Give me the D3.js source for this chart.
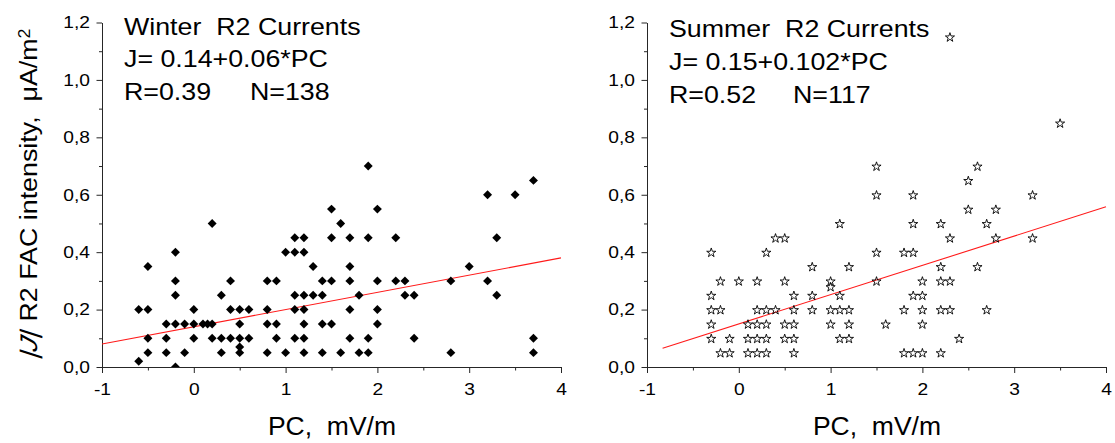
<!DOCTYPE html>
<html>
<head>
<meta charset="utf-8">
<script src="https://cdn.jsdelivr.net/npm/d3@7"></script>
<style>
  html, body { margin: 0; padding: 0; background: #fff; }
  svg { display: block; font-family: "Liberation Sans", Arial, sans-serif; }
  text { white-space: pre; fill: #000; }
</style>
</head>
<body>
<svg id="chart" width="1115" height="443"></svg>
<script>
// ---- Winter R2 currents: PC index (mV/m) vs |J| (µA/m²) ----
const winterPC = [
  -0.6, -0.6,
  -0.5, -0.5, -0.5, -0.5,
  -0.3, -0.3, -0.3,
  -0.2, -0.2, -0.2, -0.2, -0.2,
  -0.1, -0.1,
  0.0, 0.0, 0.0,
  0.1, 0.15,
  0.2, 0.2, 0.2,
  0.3, 0.3, 0.3,
  0.4, 0.4, 0.4,
  0.5, 0.5, 0.5, 0.5, 0.5,
  0.6, 0.6,
  0.8, 0.8, 0.8, 0.8,
  0.9, 0.9, 0.9,
  1.0, 1.0,
  1.1, 1.1, 1.1, 1.1, 1.1,
  1.2, 1.2, 1.2, 1.2, 1.2, 1.2, 1.2,
  1.3, 1.3,
  1.4, 1.4, 1.4, 1.4,
  1.5, 1.5, 1.5, 1.5,
  1.6, 1.6,
  1.7, 1.7, 1.7, 1.7, 1.7,
  1.8, 1.8,
  1.9, 1.9, 1.9, 1.9,
  2.0, 2.0, 2.0, 2.0,
  2.2, 2.2,
  2.3, 2.3,
  2.4, 2.4,
  2.8, 2.8,
  3.0,
  3.2, 3.2,
  3.3, 3.3,
  3.5,
  3.7, 3.7, 3.7
];
const winterJ = [
  0.20, 0.02,
  0.35, 0.20, 0.10, 0.05,
  0.15, 0.10, 0.05,
  0.40, 0.30, 0.25, 0.15, 0.00,
  0.15, 0.05,
  0.20, 0.15, 0.10,
  0.15, 0.15,
  0.50, 0.15, 0.10,
  0.25, 0.10, 0.05,
  0.30, 0.20, 0.10,
  0.20, 0.15, 0.10, 0.07, 0.05,
  0.20, 0.10,
  0.30, 0.20, 0.15, 0.05,
  0.30, 0.15, 0.10,
  0.40, 0.05,
  0.45, 0.40, 0.25, 0.20, 0.10,
  0.45, 0.40, 0.25, 0.20, 0.15, 0.10, 0.05,
  0.35, 0.25,
  0.30, 0.25, 0.15, 0.05,
  0.55, 0.45, 0.30, 0.15,
  0.50, 0.05,
  0.45, 0.35, 0.30, 0.20, 0.10,
  0.25, 0.05,
  0.70, 0.45, 0.10, 0.05,
  0.55, 0.30, 0.20, 0.15,
  0.45, 0.30,
  0.30, 0.25,
  0.25, 0.10,
  0.30, 0.05,
  0.35,
  0.60, 0.30,
  0.45, 0.25,
  0.60,
  0.65, 0.10, 0.05
];

// ---- Summer R2 currents ----
const summerPC = [
  -0.3, -0.3, -0.3, -0.3, -0.3,
  -0.2, -0.2, -0.2,
  -0.1, -0.1,
  0.0,
  0.1, 0.1, 0.1,
  0.2, 0.2, 0.2, 0.2, 0.2,
  0.3, 0.3, 0.3, 0.3, 0.3,
  0.4, 0.4,
  0.5, 0.5, 0.5, 0.5,
  0.6, 0.6, 0.6, 0.6, 0.6,
  0.8, 0.8, 0.8,
  1.0, 1.0, 1.0, 1.0,
  1.1, 1.1, 1.1, 1.1,
  1.2, 1.2, 1.2, 1.2,
  1.5, 1.5, 1.5, 1.5,
  1.6,
  1.8, 1.8, 1.8,
  1.9, 1.9, 1.9, 1.9, 1.9,
  2.0, 2.0, 2.0, 2.0, 2.0,
  2.2, 2.2, 2.2, 2.2, 2.2,
  2.3, 2.3, 2.3, 2.3,
  2.4,
  2.5, 2.5,
  2.6, 2.6,
  2.7, 2.7,
  2.8, 2.8,
  3.2, 3.2,
  3.5
];
const summerJ = [
  0.40, 0.25, 0.20, 0.15, 0.10,
  0.30, 0.20, 0.05,
  0.10, 0.05,
  0.30,
  0.15, 0.10, 0.05,
  0.30, 0.20, 0.15, 0.10, 0.05,
  0.40, 0.20, 0.15, 0.10, 0.05,
  0.45, 0.20,
  0.45, 0.30, 0.15, 0.10,
  0.25, 0.20, 0.15, 0.10, 0.05,
  0.35, 0.25, 0.20,
  0.30, 0.28, 0.20, 0.15,
  0.50, 0.25, 0.20, 0.10,
  0.35, 0.20, 0.15, 0.10,
  0.70, 0.60, 0.40, 0.30,
  0.15,
  0.40, 0.20, 0.05,
  0.60, 0.50, 0.40, 0.25, 0.05,
  0.30, 0.25, 0.20, 0.15, 0.05,
  0.50, 0.35, 0.30, 0.20, 0.05,
  1.15, 0.45, 0.30, 0.20,
  0.10,
  0.65, 0.55,
  0.70, 0.35,
  0.50, 0.20,
  0.55, 0.45,
  0.60, 0.45,
  0.85
];

// Linear fits J = a + b*PC and the PC range each line covers
const winterFit = [0.14, 0.06];
const summerFit = [0.15, 0.102];
const winterFitRange = [-1, 4];
const summerFitRange = [-0.83, 4];

// Axis ticks
const xMajorTicks = [-1, 0, 1, 2, 3, 4];
const xMinorTicks = [-0.5, 0.5, 1.5, 2.5, 3.5];
const yMajorTicks = [0, 0.2, 0.4, 0.6, 0.8, 1.0, 1.2];
const yMinorTicks = [0.1, 0.3, 0.5, 0.7, 0.9, 1.1];
const yTickLabels = ["0,0", "0,2", "0,4", "0,6", "0,8", "1,0", "1,2"];
const xTickLabels = ["-1", "0", "1", "2", "3", "4"];

// Panel annotations
const winterNotes = ["Winter  R2 Currents", "J= 0.14+0.06*PC", "R=0.39", "N=138"];
const summerNotes = ["Summer  R2 Currents", "J= 0.15+0.102*PC", "R=0.52", "N=117"];
const xTitle = "PC,  mV/m";

const svg = d3.select("#chart");
const AXIS = "#262626";

const y = d3.scaleLinear().domain([0, 1.2]).range([367, 22.5]);

const panels = [
  { id: "w", pc: winterPC, j: winterJ, fit: winterFit, range: winterFitRange,
    notes: winterNotes, left: 102, right: 561, noteX: 124, noteY: [35, 67, 100], nX: 250, marker: "diamond" },
  { id: "s", pc: summerPC, j: summerJ, fit: summerFit, range: summerFitRange,
    notes: summerNotes, left: 647, right: 1106, noteX: 669, noteY: [37, 70, 103], nX: 793, marker: "star" }
];

// Horizontally widened text, anchored at (x, y)
function wideText(parent, x, yPos, str, size, sx, anchor) {
  return parent.append("text")
    .attr("transform", `translate(${x},${yPos}) scale(${sx},1)`)
    .attr("text-anchor", anchor || "start")
    .style("font-size", size + "px")
    .text(str);
}

panels.forEach(p => {
  const x = d3.scaleLinear().domain([-1, 4]).range([p.left, p.right]);
  const g = svg.append("g");

  // minor ticks
  g.append("g").attr("transform", `translate(${p.left},0)`)
    .call(d3.axisLeft(y).tickValues(yMinorTicks).tickSize(3).tickSizeOuter(0).tickFormat(""))
    .call(a => a.select(".domain").remove());
  g.append("g").attr("transform", `translate(0,${y(0)})`)
    .call(d3.axisBottom(x).tickValues(xMinorTicks).tickSize(3.5).tickSizeOuter(0).tickFormat(""))
    .call(a => a.select(".domain").remove());

  // major ticks and axis lines
  g.append("g").attr("transform", `translate(${p.left},0)`)
    .call(d3.axisLeft(y).tickValues(yMajorTicks).tickSize(5.5).tickSizeOuter(0).tickFormat(""));
  g.append("g").attr("transform", `translate(0,${y(0)})`)
    .call(d3.axisBottom(x).tickValues(xMajorTicks).tickSize(6).tickSizeOuter(0).tickFormat(""));

  g.selectAll(".domain, .tick line").attr("stroke", AXIS).attr("stroke-width", 1);

  // tick labels
  yMajorTicks.forEach((v, i) => {
    wideText(g, p.left - 12, y(v) + 5.8, yTickLabels[i], 16, 1.2, "end");
  });
  xMajorTicks.forEach((v, i) => {
    wideText(g, x(v) + 0.5, 395, xTickLabels[i], 16, 1.2, "middle");
  });

  // x-axis title
  wideText(g, (p.left + p.right) / 2 + 0.5, 435, xTitle, 26, 1.02, "middle");

  // clip region for marks
  svg.append("clipPath").attr("id", "clip-" + p.id)
    .append("rect")
    .attr("x", p.left).attr("y", y(1.2) - 6)
    .attr("width", p.right - p.left + 6).attr("height", y(0) - y(1.2) + 6);

  const marks = g.append("g").attr("clip-path", `url(#clip-${p.id})`);

  // fit line
  const line = d3.line().x(d => x(d)).y(d => y(p.fit[0] + p.fit[1] * d));
  marks.append("path")
    .datum(p.range)
    .attr("d", line)
    .attr("fill", "none")
    .attr("stroke", "#ff1a1a")
    .attr("stroke-width", 1.1);

  const pts = p.pc.map((v, i) => [v, p.j[i]]);
  if (p.marker === "diamond") {
    const sym = d3.symbol(d3.symbolSquare, 40)();
    marks.selectAll("path.pt").data(pts).join("path")
      .attr("class", "pt")
      .attr("d", sym)
      .attr("transform", d => `translate(${x(d[0])},${y(d[1])}) rotate(45)`)
      .attr("fill", "#000");
  } else {
    const sym = d3.symbol(d3.symbolStar, 26)();
    marks.selectAll("path.pt").data(pts).join("path")
      .attr("class", "pt")
      .attr("d", sym)
      .attr("transform", d => `translate(${x(d[0])},${y(d[1]) + 0.6})`)
      .attr("fill", "none")
      .attr("stroke", "#000")
      .attr("stroke-width", 0.9);
  }

  // annotations
  wideText(g, p.noteX, p.noteY[0], p.notes[0], 23.5, 1.14);
  wideText(g, p.noteX, p.noteY[1], p.notes[1], 23.5, 1.14);
  wideText(g, p.noteX, p.noteY[2], p.notes[2], 23.5, 1.14);
  wideText(g, p.nX, p.noteY[2], p.notes[3], 23.5, 1.14);
});

// y-axis title (left panel): slanted |J| followed by the rest of the label
const ytGroup = svg.append("g");
const ytMag = ytGroup.append("text")
  .style("font-size", "24px")
  .style("font-style", "italic")
  .text("|J|");
const ytRest = ytGroup.append("text")
  .style("font-size", "24px");
ytRest.append("tspan").text(" R2 FAC intensity,  \u03BCA/m");
ytRest.append("tspan").attr("dy", "-0.42em").style("font-size", "16px").text("2");
const wMag = ytMag.node().getComputedTextLength();
const wRest = ytRest.node().getComputedTextLength();
const wAll = wMag + wRest;
const x0 = -wAll / 2;
ytMag.attr("transform", `translate(${x0 - 1.5},0) skewX(-16)`);
ytRest.attr("x", x0 + wMag + 1.5);
ytGroup.attr("transform", `translate(37,194) rotate(-90) scale(${328 / wAll},1)`);
</script>
</body>
</html>
